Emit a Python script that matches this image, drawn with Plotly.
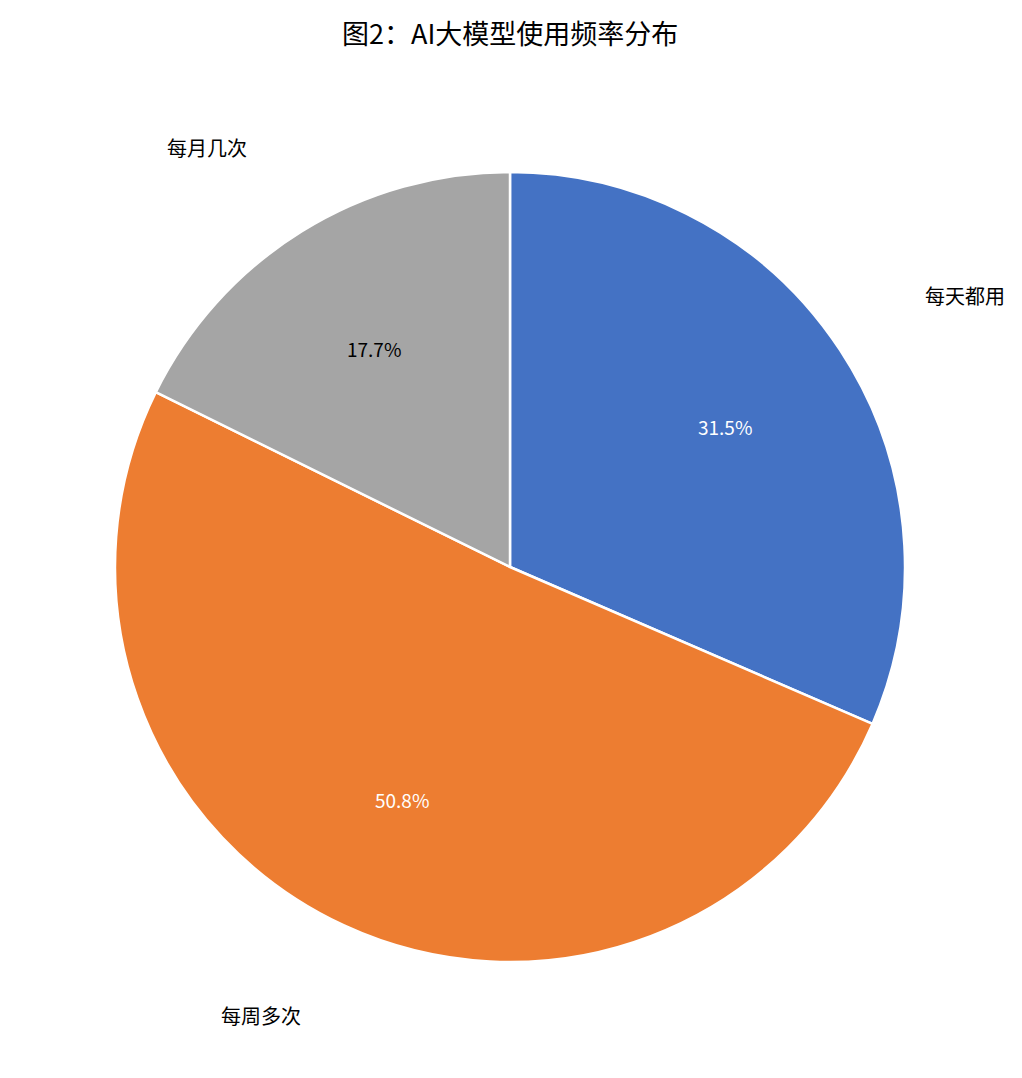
import math
import plotly.graph_objects as go

LABELS = ["每天都用", "每周多次", "每月几次"]
VALUES = [31.5, 50.8, 17.7]
COLORS = ["#4472C4", "#ED7D31", "#A5A5A5"]
PCT_COLORS = ["white", "white", "black"]

W, H = 1022, 1078
CX, CY, R = 502, 559, 395  # pie center / radius in pixels (page has 8px body margin)
FONT = "Noto Sans CJK SC, Microsoft YaHei, sans-serif"

dom_x = [(CX - R) / W, (CX + R) / W]
dom_y = [(H - CY - R) / H, (H - CY + R) / H]

fig = go.Figure(go.Pie(
    labels=LABELS,
    values=VALUES,
    sort=False,
    direction="clockwise",
    rotation=0,
    textinfo="none",
    hoverinfo="label+percent",
    marker=dict(colors=COLORS, line=dict(color="white", width=2.5)),
    domain=dict(x=dom_x, y=dom_y),
    showlegend=False,
))

# label / percentage positions from slice mid-angles (like matplotlib)
total = sum(VALUES)
start = 0.0
for lab, val, pc in zip(LABELS, VALUES, PCT_COLORS):
    mid = start + val / total * 360 / 2
    start += val / total * 360
    ang = math.radians(90 - mid)
    for dist, text, color, size, outer in [(1.25, lab, "black", 20, True),
                                           (0.65, f"{val / total * 100:.1f}%", pc, 19, False)]:
        px_x = CX + dist * R * math.cos(ang)
        px_y = CY - dist * R * math.sin(ang)
        xanchor = "center"
        if outer:
            xanchor = "left" if math.cos(ang) > 0 else "right"
        fig.add_annotation(
            x=px_x / W, y=1 - px_y / H, xref="paper", yref="paper",
            text=text, showarrow=False, xanchor=xanchor, yanchor="middle",
            font=dict(family=FONT, size=size, color=color),
        )

# title as annotation so it stays fully inside the figure
fig.add_annotation(
    x=CX / W, y=1 - 3 / H, xref="paper", yref="paper",
    text="图2：AI大模型使用频率分布", showarrow=False,
    xanchor="center", yanchor="top",
    font=dict(family=FONT, size=27, color="black"),
)

fig.update_layout(
    width=W, height=H,
    margin=dict(l=0, r=0, t=0, b=0),
    paper_bgcolor="white",
)

fig.write_html("out.html")
